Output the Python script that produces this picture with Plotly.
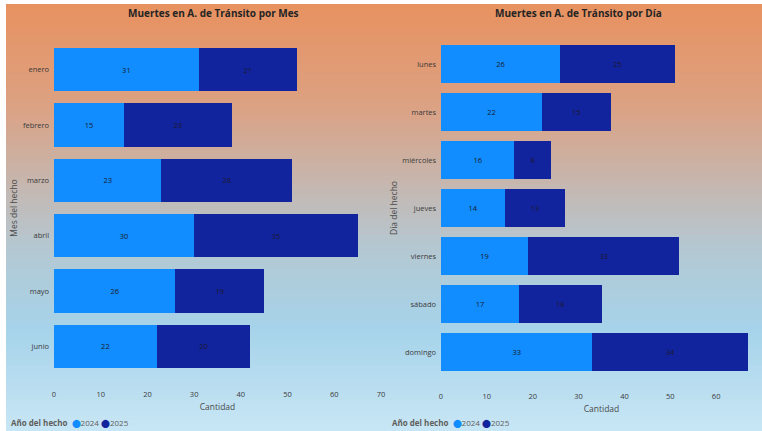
import plotly.graph_objects as go

# ---- data ----
meses = ["enero", "febrero", "marzo", "abril", "mayo", "junio"]
mes_2024 = [31, 15, 23, 30, 26, 22]
mes_2025 = [21, 23, 28, 35, 19, 20]

dias = ["lunes", "martes", "miércoles", "jueves", "viernes", "sábado", "domingo"]
dia_2024 = [26, 22, 16, 14, 19, 17, 33]
dia_2025 = [25, 15, 8, 13, 33, 18, 34]

x_ticks = [0, 10, 20, 30, 40, 50, 60, 70]
years = ["2024", "2025"]

C2024 = "#118DFF"
C2025 = "#12239E"
W, H = 762, 431
FONT = "Open Sans"

fig = go.Figure()

def add(y, x, name, color, xa, ya):
    fig.add_trace(go.Bar(
        y=y, x=x, name=name, orientation="h", marker_color=color,
        marker_line_width=0, text=x, textposition="inside",
        insidetextanchor="middle",
        textfont=dict(size=7.5, color="#1a1a2a", family=FONT),
        xaxis=xa, yaxis=ya, showlegend=False,
    ))

add(meses, mes_2024, years[0], C2024, "x", "y")
add(meses, mes_2025, years[1], C2025, "x", "y")
add(dias, dia_2024, years[0], C2024, "x2", "y2")
add(dias, dia_2025, years[1], C2025, "x2", "y2")

# gradient background via stacked rectangles
stops = [(0, (232, 145, 95)), (100, (221, 160, 128)), (190, (196, 184, 178)),
         (250, (180, 200, 210)), (330, (166, 211, 234)), (431, (200, 230, 245))]
shapes = []
n = 86
for i in range(n):
    y0 = i * H / n
    y1 = (i + 1) * H / n
    ym = (y0 + y1) / 2
    for (a, ca), (b, cb) in zip(stops[:-1], stops[1:]):
        if a <= ym <= b:
            t = (ym - a) / (b - a)
            c = tuple(int(round(ca[k] + (cb[k] - ca[k]) * t)) for k in range(3))
            break
    shapes.append(dict(type="rect", xref="paper", yref="paper", x0=0, x1=1,
                       y0=1 - y1 / H, y1=1 - y0 / H + 0.002, layer="below",
                       line_width=0, fillcolor="rgb(%d,%d,%d)" % c))
shapes.append(dict(type="rect", xref="paper", yref="paper", x0=0, x1=1,
                   y0=1 - 4 / H, y1=1, layer="below", line_width=0, fillcolor="white"))
shapes.append(dict(type="rect", xref="paper", yref="paper", x0=0, x1=6 / W,
                   y0=0, y1=1, layer="below", line_width=0, fillcolor="white"))

axis_font = dict(size=7.5, color="#3a3a3a", family=FONT)
title_font = dict(size=8.5, color="#4a4a4a", family=FONT)

legend_text = ("<b>Año del hecho</b>  <span style='color:%s'>⬤</span>%s "
               "<span style='color:%s'>⬤</span>%s") % (C2024, years[0], C2025, years[1])

fig.update_layout(
    width=W, height=H,
    margin=dict(l=0, r=0, t=0, b=0, autoexpand=False),
    paper_bgcolor="white", plot_bgcolor="rgba(0,0,0,0)",
    barmode="stack", bargap=0.22,
    font=dict(family=FONT),
    shapes=shapes,
    showlegend=False,
    xaxis=dict(domain=[54 / W, 381 / W], range=[0, 70], tickvals=x_ticks,
               showgrid=False, zeroline=False, tickfont=axis_font, anchor="y",
               automargin=False, ticklabelstandoff=14,
               title=dict(text="Cantidad", font=title_font, standoff=6)),
    yaxis=dict(domain=[1 - 374 / H, 1 - 42 / H], autorange="reversed",
               showgrid=False, tickfont=axis_font, anchor="x", ticksuffix="  ",
               automargin=False,
               title=dict(text="Mes del hecho", font=title_font, standoff=3)),
    xaxis2=dict(domain=[441 / W, 1.0], range=[0, 70], tickvals=x_ticks,
                showgrid=False, zeroline=False, tickfont=axis_font, anchor="y2",
                automargin=False, ticklabelstandoff=14,
                title=dict(text="Cantidad", font=title_font, standoff=6)),
    yaxis2=dict(domain=[1 - 376 / H, 1 - 40 / H], autorange="reversed",
                showgrid=False, tickfont=axis_font, anchor="x2", ticksuffix="  ",
                automargin=False,
                title=dict(text="Día del hecho", font=title_font, standoff=3)),
    annotations=[
        dict(text="<b>Muertes en A. de Tránsito por Mes</b>", x=213 / W,
             y=1 - 13 / H, xref="paper", yref="paper", showarrow=False,
             xanchor="center", yanchor="middle",
             font=dict(size=10, color="#252423", family=FONT)),
        dict(text="<b>Muertes en A. de Tránsito por Día</b>", x=578 / W,
             y=1 - 13 / H, xref="paper", yref="paper", showarrow=False,
             xanchor="center", yanchor="middle",
             font=dict(size=10, color="#252423", family=FONT)),
        dict(text=legend_text, x=9 / W, y=1 - 422 / H, xref="paper", yref="paper",
             showarrow=False, xanchor="left", yanchor="middle",
             font=dict(size=8, color="#605E5C", family=FONT)),
        dict(text=legend_text, x=390 / W, y=1 - 422 / H, xref="paper", yref="paper",
             showarrow=False, xanchor="left", yanchor="middle",
             font=dict(size=8, color="#605E5C", family=FONT)),
    ],
)

fig.write_html("out.html", config={"displayModeBar": False},
               post_script="document.body.style.margin='0';"
                           "document.body.style.overflow='hidden';")
